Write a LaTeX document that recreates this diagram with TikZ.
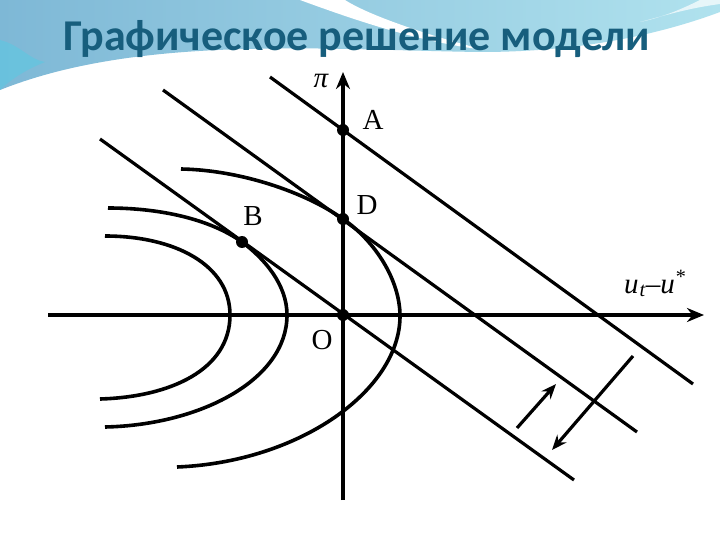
\documentclass[tikz,border=0pt]{standalone}
\usepackage{fontspec}
\setmainfont{Liberation Serif}
\newfontfamily\titlefont{Carlito}
\usetikzlibrary{arrows.meta}
\definecolor{titleblue}{RGB}{23,94,125}
\definecolor{bandleft}{RGB}{126,184,214}
\definecolor{bandright}{RGB}{176,226,238}
\definecolor{cyanedge}{RGB}{92,200,226}
\begin{document}
\begin{tikzpicture}[x=1pt,y=-1pt,
  curve/.style={line width=3.6pt},
  lin/.style={line width=3.2pt},
  axisarrow/.style={line width=4pt,-{Stealth[length=17pt,width=14pt]}},
  movearrow/.style={line width=3.2pt,-{Stealth[length=15pt,width=12pt]}},
  dot/.style={circle,fill=black,inner sep=0pt,minimum size=12pt},
  lbl/.style={font=\fontsize{29}{31}\selectfont,inner sep=0pt}]
\useasboundingbox (0,0) rectangle (720,540);
\fill[white] (0,0) rectangle (720,540);
% header band
\shade[left color=bandleft,right color=bandright]
  (0,0) -- (720,0) -- (720,12) .. controls (650,38) and (570,52) .. (480,52)
  .. controls (330,50) and (140,34) .. (0,90) -- cycle;
\fill[cyanedge,opacity=0.6] (0,40) .. controls (20,45) and (30,60) .. (45,62)
  .. controls (25,70) and (10,80) .. (0,90) -- cycle;
\fill[white] (300,0) .. controls (360,22) and (420,42) .. (485,50)
  .. controls (430,36) and (370,16) .. (345,0) -- cycle;
\fill[white,opacity=0.7] (700,0) .. controls (680,10) and (660,18) .. (640,22)
  .. controls (670,14) and (690,8) .. (720,4) -- (720,0) -- cycle;
\node[font=\titlefont\bfseries\fontsize{44}{48}\selectfont,text=titleblue,anchor=base] (title) at (357,51) {Графическое решение модели};
% coordinates
\coordinate (xs) at (48,315);
\coordinate (xe) at (704,315);
\coordinate (ys) at (343,500);
\coordinate (ye) at (343,72);
\coordinate (a1) at (270,77);
\coordinate (a2) at (693,384);
\coordinate (d1) at (163,90);
\coordinate (d2) at (637,432);
\coordinate (o1) at (100,139);
\coordinate (o2) at (574,480);
\coordinate (s1) at (517,428);
\coordinate (s2) at (556,384);
\coordinate (l1) at (633,356);
\coordinate (l2) at (552,450);
% curves
\draw[curve] (105,236) .. controls (175,236) and (230,265) .. (230,315)
  .. controls (230,370) and (170,397) .. (100,399);
\draw[curve] (108,208) .. controls (160,208) and (210,219) .. (242,242)
  .. controls (265,259) and (287,285) .. (287,315)
  .. controls (287,380) and (200,425) .. (105,427);
\draw[curve] (181,169) .. controls (240,170) and (305,192) .. (343,219)
  .. controls (375,241) and (400,280) .. (400,316)
  .. controls (400,390) and (300,462) .. (177,467);
% axes
\draw[axisarrow] (xs) -- (xe);
\draw[axisarrow] (ys) -- (ye);
% lines
\draw[lin] (a1) -- (a2);
\draw[lin] (d1) -- (d2);
\draw[lin] (o1) -- (o2);
% shift arrows
\draw[movearrow] (s1) -- (s2);
\draw[movearrow] (l1) -- (l2);
% points
\node[dot] (A) at (343,130) {};
\node[dot] (D) at (343,219) {};
\node[dot] (B) at (242,242) {};
\node[dot] (O) at (343,315) {};
% labels
\node[lbl] (lA) at (373,120) {A};
\node[lbl] (lD) at (367,205) {D};
\node[lbl] (lB) at (253,216) {B};
\node[lbl] (lO) at (322,340) {O};
\node[lbl,anchor=base] (lpi) at (321,88) {\itshape π};
\node[lbl,anchor=base west] (lu) at (624,293) {\itshape u\kern1pt\textsubscript{t}–u\textsuperscript{*}};
\end{tikzpicture}
\end{document}
